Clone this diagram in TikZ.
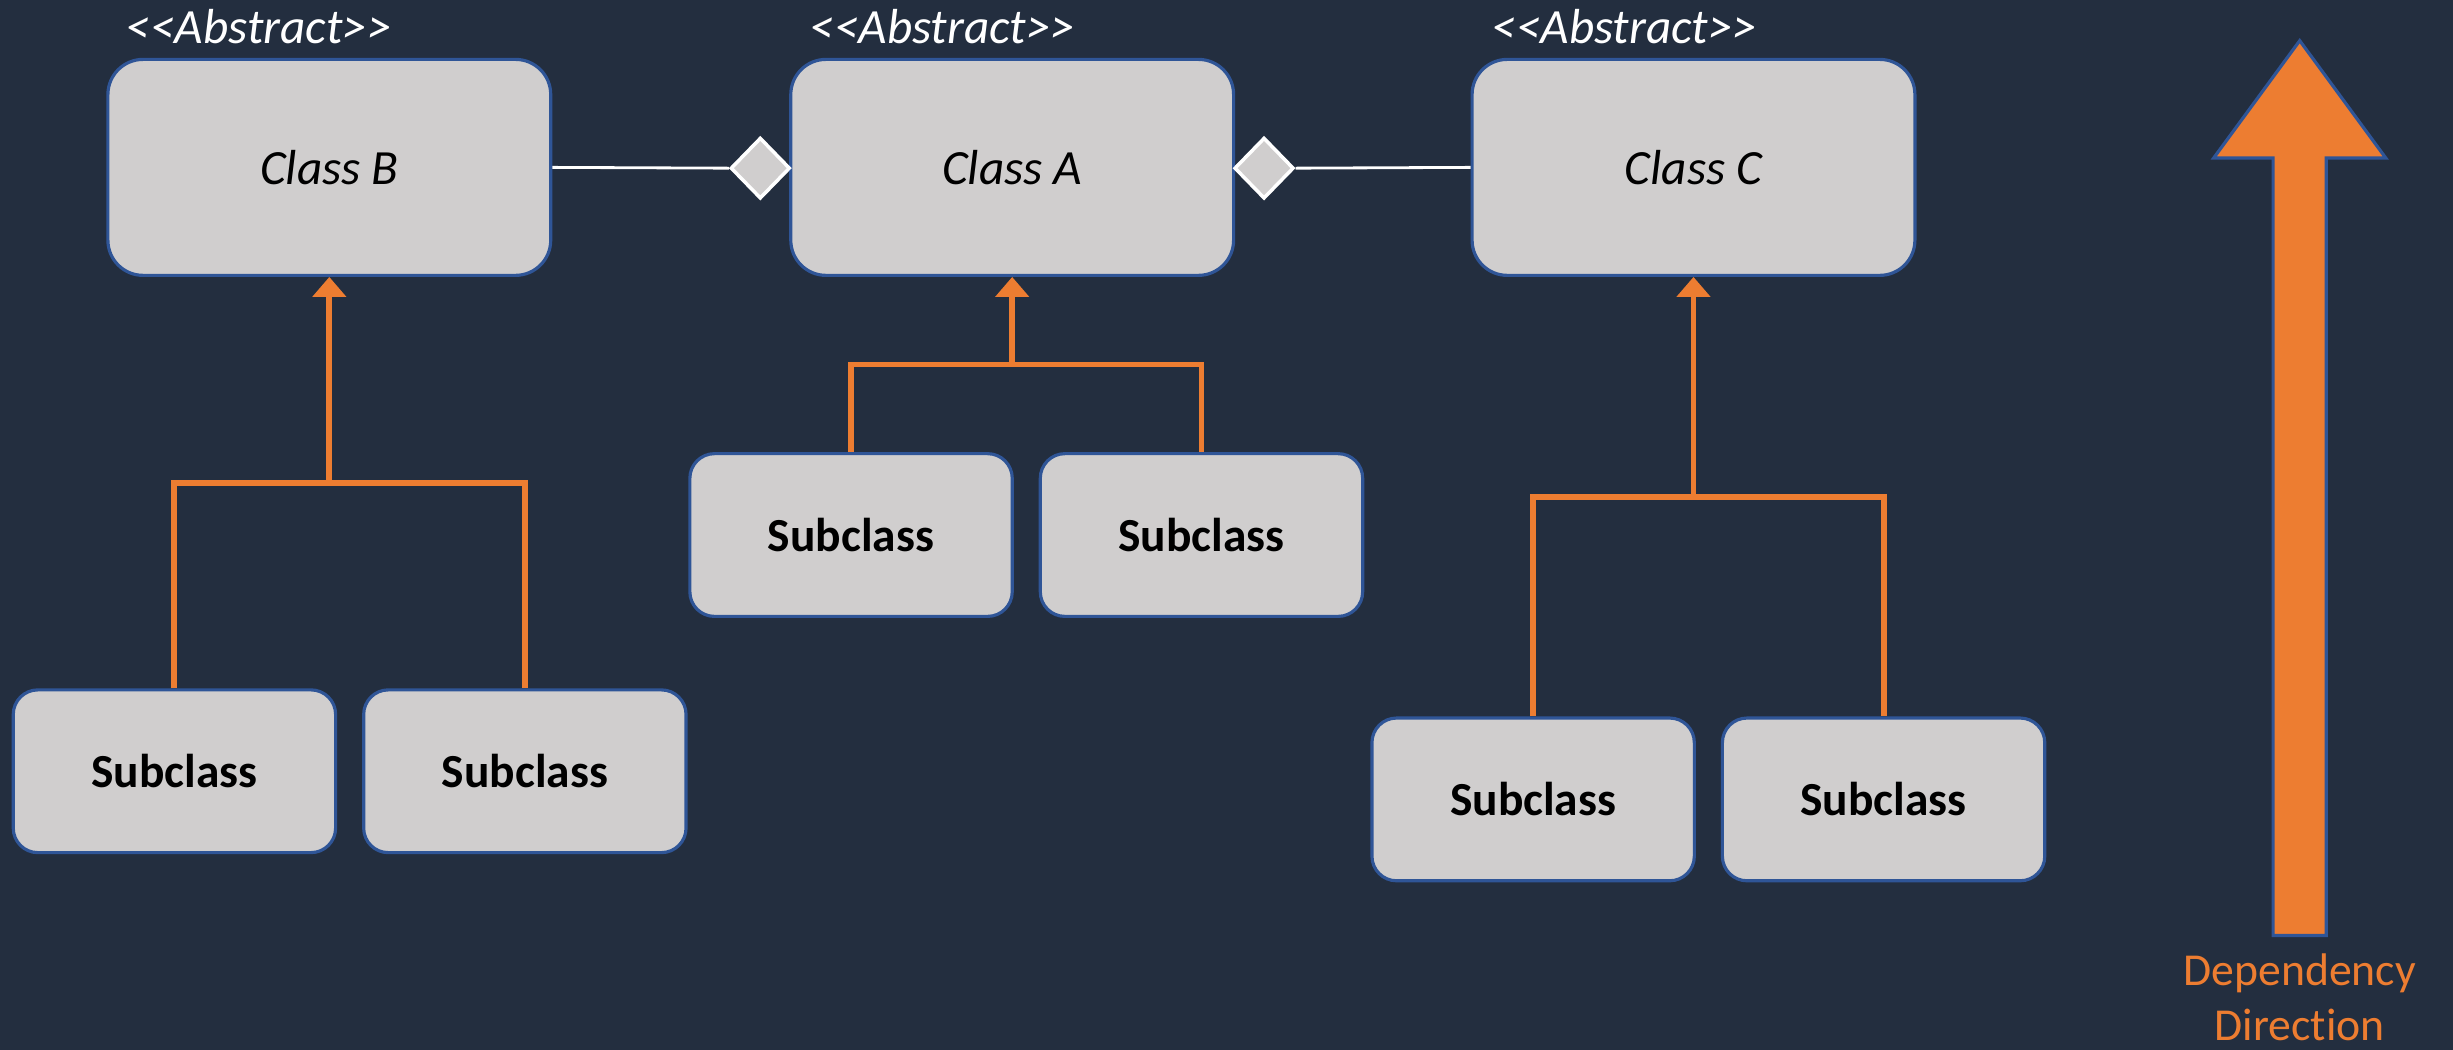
\documentclass[tikz,border=0pt]{standalone}
\usepackage{fontspec}
\setmainfont{Carlito}[Ligatures={NoCommon}]
\usetikzlibrary{arrows.meta,shapes.geometric}
\definecolor{bg}{HTML}{232E3F}
\definecolor{boxfill}{HTML}{D0CECE}
\definecolor{boxline}{HTML}{2F5597}
\definecolor{orng}{HTML}{ED7D31}
\newcommand{\abstag}{\textless\kern0pt\textless\kern0pt Abstract\kern0pt\textgreater\kern0pt\textgreater}
\begin{document}
\begin{tikzpicture}[x=0.015644cm,y=-0.015644cm,
 classbox/.style={draw=boxline, line width=0.9pt, fill=boxfill, rounded corners=10pt, minimum width=4.427cm, minimum height=2.159cm, font=\fontsize{14}{16}\selectfont\itshape, text=black, inner sep=0pt},
 subbox/.style={draw=boxline, line width=0.9pt, fill=boxfill, rounded corners=7pt, minimum width=3.223cm, minimum height=1.627cm, font=\fontsize{13.5}{16}\selectfont\bfseries, text=black, inner sep=0pt},
 abstr/.style={anchor=west, text=white, font=\fontsize{14}{16}\selectfont\itshape, inner sep=0pt},
 tree/.style={draw=orng, line width=1.7pt},
 inh/.style={tree, -{Triangle[width=9.4pt,length=5.7pt]}},
 assoc/.style={draw=white, line width=0.8pt},
 diam/.style={diamond, draw=white, line width=1pt, fill=boxfill, minimum width=0.594cm, minimum height=0.61cm, inner sep=0pt},
 bigarrow/.style={fill=orng, draw=boxline, line width=0.9pt},
 deplabel/.style={text=orng, align=center, font=\fontsize{13}{15.6}\selectfont, inner sep=0pt}
]
\path[fill=bg] (0,0) rectangle (1568,671);
\useasboundingbox (0,0) rectangle (1568,671);

% abstract classes
\node[classbox] (B) at (210.5,107) {Class B};
\node[classbox] (A) at (647,107) {Class A};
\node[classbox] (C) at (1082.5,107) {Class C};
\node[abstr] (lB) at (80,17) {\abstag};
\node[abstr] (lA) at (517,17) {\abstag};
\node[abstr] (lC) at (953,17) {\abstag};

% composition diamonds
\node[diam] (dL) at (486,107.5) {};
\node[diam] (dR) at (808,107.5) {};
\draw[assoc] (B.east) -- (dL.west);
\draw[assoc] (dR.east) -- (C.west);

% subclasses
\node[subbox] (B1) at (111.5,493) {Subclass};
\node[subbox] (B2) at (335.5,493) {Subclass};
\node[subbox] (A1) at (544,342) {Subclass};
\node[subbox] (A2) at (768,342) {Subclass};
\node[subbox] (C1) at (980,511) {Subclass};
\node[subbox] (C2) at (1204,511) {Subclass};

% inheritance trees
\coordinate (jB) at (210.5,309);
\coordinate (jA) at (647,233);
\coordinate (jC) at (1082.5,318);
\draw[tree] (B1.north) |- (jB) -| (B2.north);
\draw[inh] (jB) -- (B.south);
\draw[tree] (A1.north) |- (jA) -| (A2.north);
\draw[inh] (jA) -- (A.south);
\draw[tree] (C1.north) |- (jC) -| (C2.north);
\draw[inh] (jC) -- (C.south);

% dependency direction arrow
\draw[bigarrow] (1470,26) -- (1525,101) -- (1487,101) -- (1487,598) -- (1453,598) -- (1453,101) -- (1415,101) -- cycle;
\node[deplabel] (dep) at (1470,637.5) {Dependency\\Direction};
\end{tikzpicture}
\end{document}
